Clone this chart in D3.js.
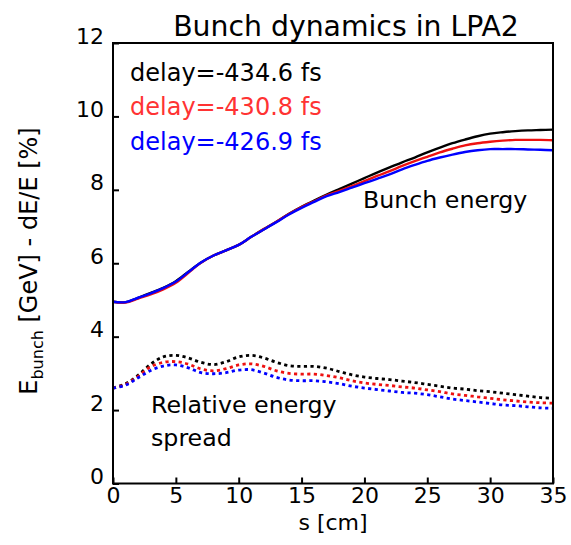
<!DOCTYPE html>
<html>
<head>
<meta charset="utf-8">
<script src="https://cdn.jsdelivr.net/npm/d3@7"></script>
<style>
  html, body { margin: 0; padding: 0; background: #fff; }
  svg { display: block; font-family: "DejaVu Sans", sans-serif; }
</style>
</head>
<body>
<svg id="chart" width="571" height="545"></svg>
<script>
// Propagation distance s [cm]
const s = [0,1,2,3,4,5,6,7,8,9,10,11,12,13,14,15,16,17,18,19,20,21,22,23,24,25,26,27,28,29,30,31,32,33,34,35];

// Bunch energy [GeV] for each laser delay
const energyA = [4.95,4.94,5.06,5.19,5.33,5.51,5.77,6.02,6.21,6.35,6.50,6.72,6.93,7.13,7.35,7.54,7.71,7.87,8.02,8.17,8.32,8.47,8.61,8.75,8.88,9.02,9.15,9.27,9.37,9.46,9.53,9.57,9.60,9.62,9.63,9.64];
const energyB = [4.95,4.93,5.04,5.15,5.29,5.47,5.74,6.01,6.21,6.35,6.50,6.72,6.93,7.13,7.34,7.53,7.69,7.85,7.97,8.10,8.24,8.38,8.51,8.65,8.78,8.90,9.02,9.12,9.21,9.27,9.31,9.34,9.36,9.36,9.36,9.35];
const energyC = [4.95,4.94,5.06,5.18,5.32,5.50,5.76,6.02,6.21,6.35,6.50,6.72,6.92,7.12,7.33,7.51,7.67,7.83,7.94,8.06,8.18,8.30,8.42,8.56,8.68,8.79,8.88,8.96,9.03,9.08,9.11,9.11,9.11,9.10,9.09,9.08];

// Relative energy spread dE/E [%] for each laser delay
const spreadA = [2.60,2.72,2.95,3.25,3.45,3.49,3.42,3.30,3.24,3.32,3.45,3.49,3.42,3.30,3.21,3.19,3.19,3.14,3.05,2.96,2.90,2.86,2.83,2.79,2.75,2.70,2.65,2.60,2.57,2.53,2.50,2.46,2.42,2.38,2.34,2.32];
const spreadB = [2.60,2.70,2.92,3.18,3.30,3.32,3.25,3.12,3.07,3.13,3.23,3.26,3.19,3.07,3.00,2.98,2.98,2.94,2.88,2.80,2.74,2.70,2.67,2.63,2.60,2.55,2.50,2.44,2.40,2.36,2.32,2.28,2.25,2.22,2.20,2.19];
const spreadC = [2.60,2.68,2.88,3.08,3.20,3.23,3.15,3.02,2.99,3.02,3.09,3.10,3.01,2.89,2.82,2.80,2.80,2.77,2.72,2.65,2.60,2.56,2.52,2.48,2.46,2.42,2.36,2.30,2.26,2.22,2.18,2.14,2.12,2.09,2.06,2.05];

const delays = ["delay=-434.6 fs", "delay=-430.8 fs", "delay=-426.9 fs"];
const lineColors = ["#000000", "#ee1111", "#0000ff"];
const textColors = ["#000000", "#ff3333", "#0000ff"];

const xTicks = [0,5,10,15,20,25,30,35];
const yTicks = [0,2,4,6,8,10,12];

const svg = d3.select("#chart");
const plotLeft = 113, plotRight = 553, plotTop = 43, plotBottom = 483.5;

const x = d3.scaleLinear().domain([0, 35]).range([plotLeft, plotRight]);
const y = d3.scaleLinear().domain([0, 12]).range([plotBottom, plotTop]);

// Title
svg.append("text")
  .attr("x", 346).attr("y", 36)
  .attr("text-anchor", "middle")
  .attr("font-size", 28.3)
  .attr("fill", "#000")
  .text("Bunch dynamics in LPA2");

// Curves
const line = d3.line()
  .x((d, i) => x(s[i]))
  .y(d => y(d))
  .curve(d3.curveCatmullRom.alpha(0.5));

const plot = svg.append("g");
[spreadA, spreadB, spreadC].forEach((vals, k) => {
  plot.append("path")
    .attr("d", line(vals))
    .attr("fill", "none")
    .attr("stroke", lineColors[k])
    .attr("stroke-width", 2.8)
    .attr("stroke-dasharray", "3.2,3.4");
});
[energyA, energyB, energyC].forEach((vals, k) => {
  plot.append("path")
    .attr("d", line(vals))
    .attr("fill", "none")
    .attr("stroke", lineColors[k])
    .attr("stroke-width", 2.4);
});

// Axes with inward ticks
const xAxis = svg.append("g")
  .attr("transform", `translate(0,${plotBottom})`)
  .call(d3.axisBottom(x).tickValues(xTicks).tickSize(-6).tickPadding(3.5).tickFormat(d3.format("d")));
xAxis.select(".domain").remove();
xAxis.selectAll(".tick line").attr("stroke", "#000").attr("stroke-width", 2);
xAxis.selectAll(".tick text").attr("font-size", 22).attr("font-family", "DejaVu Sans").attr("fill", "#000");

const yAxis = svg.append("g")
  .attr("transform", `translate(${plotLeft},0)`)
  .call(d3.axisLeft(y).tickValues(yTicks).tickSize(-6).tickPadding(9).tickFormat(d3.format("d")));
yAxis.select(".domain").remove();
yAxis.selectAll(".tick line").attr("stroke", "#000").attr("stroke-width", 2);
yAxis.selectAll(".tick text").attr("font-size", 22).attr("font-family", "DejaVu Sans").attr("fill", "#000").attr("dy", "0");

// Frame
svg.append("rect")
  .attr("x", plotLeft).attr("y", plotTop)
  .attr("width", plotRight - plotLeft).attr("height", plotBottom - plotTop)
  .attr("fill", "none").attr("stroke", "#000").attr("stroke-width", 2);

// Legend
delays.forEach((t, k) => {
  svg.append("text")
    .attr("x", 130).attr("y", 80.5 + k * 34.8)
    .attr("font-size", 24)
    .attr("fill", textColors[k])
    .text(t);
});

// Annotations
svg.append("text").attr("x", 363).attr("y", 208).attr("font-size", 23.7).attr("fill", "#000").text("Bunch energy");
svg.append("text").attr("x", 151).attr("y", 413).attr("font-size", 23.7).attr("fill", "#000").text("Relative energy");
svg.append("text").attr("x", 151).attr("y", 446).attr("font-size", 23.7).attr("fill", "#000").text("spread");

// Axis titles
svg.append("text")
  .attr("x", 333).attr("y", 530)
  .attr("text-anchor", "middle")
  .attr("font-size", 22)
  .attr("fill", "#000")
  .text("s [cm]");

const yLabel = svg.append("text")
  .attr("transform", "translate(37,261) rotate(-90)")
  .attr("text-anchor", "middle")
  .attr("font-size", 24)
  .attr("fill", "#000");
yLabel.append("tspan").text("E");
yLabel.append("tspan").attr("font-size", 16).attr("dy", 6).text("bunch");
yLabel.append("tspan").attr("dy", -6).text(" [GeV] - dE/E [%]");
</script>
</body>
</html>
